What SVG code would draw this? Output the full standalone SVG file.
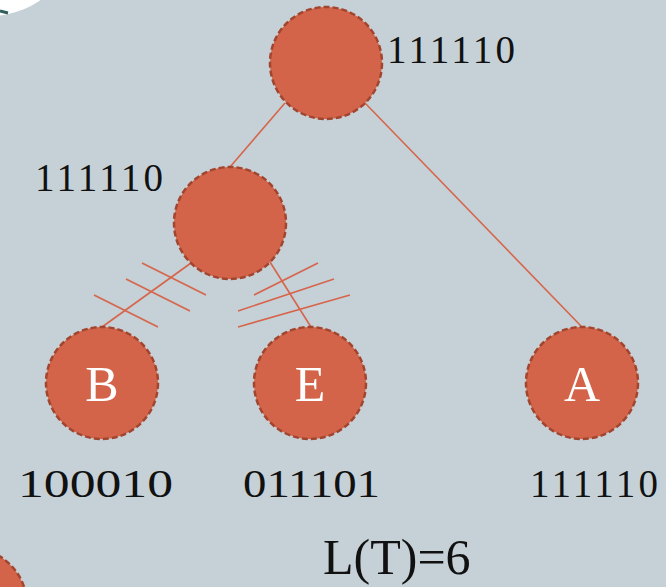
<svg xmlns="http://www.w3.org/2000/svg" width="666" height="587" viewBox="0 0 666 587">
<style>
.node{fill:#D3644A;stroke:#A2452F;stroke-width:2.5;stroke-dasharray:6 3}
.edge{stroke:#D6654B;stroke-width:1.6;fill:none}
.lbl{font-family:"Liberation Serif",serif;font-size:39px;fill:#111}
.let{font-family:"Liberation Serif",serif;font-size:50px;fill:#fff;text-anchor:middle}
.lt{font-family:"Liberation Serif",serif;font-size:50px;fill:#111}
</style>
<rect width="666" height="587" fill="#C6D1D7"/>
<circle cx="-10" cy="-72" r="88" fill="#fff"/>
<path d="M0,11 Q4,12 8,13" stroke="#2E5E5C" stroke-width="3" fill="none"/>
<circle cx="-30" cy="605" r="57" class="node"/>
<g id="connectors">
<line class="edge" x1="285" y1="103" x2="230" y2="167"/>
<line class="edge" x1="365" y1="103" x2="581" y2="326"/>
<line class="edge" x1="191" y1="263" x2="102" y2="327"/>
<line class="edge" x1="270" y1="262" x2="311" y2="327"/>
<line class="edge" x1="142" y1="263" x2="206" y2="295"/>
<line class="edge" x1="126" y1="279" x2="190" y2="311"/>
<line class="edge" x1="94" y1="295" x2="158" y2="327"/>
<line class="edge" x1="254" y1="295" x2="318" y2="263"/>
<line class="edge" x1="238" y1="311" x2="334" y2="279"/>
<line class="edge" x1="238" y1="327" x2="350" y2="295"/>
</g>
<g id="root">
<circle cx="326" cy="63" r="56" class="node"/>
<text class="lbl" x="387" y="63" textLength="128" lengthAdjust="spacing">111110</text>
</g>
<g id="mid">
<circle cx="230" cy="223" r="56" class="node"/>
<text class="lbl" x="35" y="191" textLength="128" lengthAdjust="spacing">111110</text>
</g>
<g id="B">
<circle cx="102" cy="383" r="56" class="node"/>
<text class="let" x="102" y="401">B</text>
<text class="lbl" x="18" y="497" textLength="155" lengthAdjust="spacingAndGlyphs">100010</text>
</g>
<g id="E">
<circle cx="310" cy="383" r="56" class="node"/>
<text class="let" x="310" y="401">E</text>
<text class="lbl" x="243" y="497" textLength="137" lengthAdjust="spacingAndGlyphs">011101</text>
</g>
<g id="A">
<circle cx="582" cy="383" r="56" class="node"/>
<text class="let" x="582" y="401">A</text>
<text class="lbl" x="530" y="497" textLength="128" lengthAdjust="spacing">111110</text>
</g>
<text class="lt" x="323" y="574">L(T)=6</text>
</svg>
